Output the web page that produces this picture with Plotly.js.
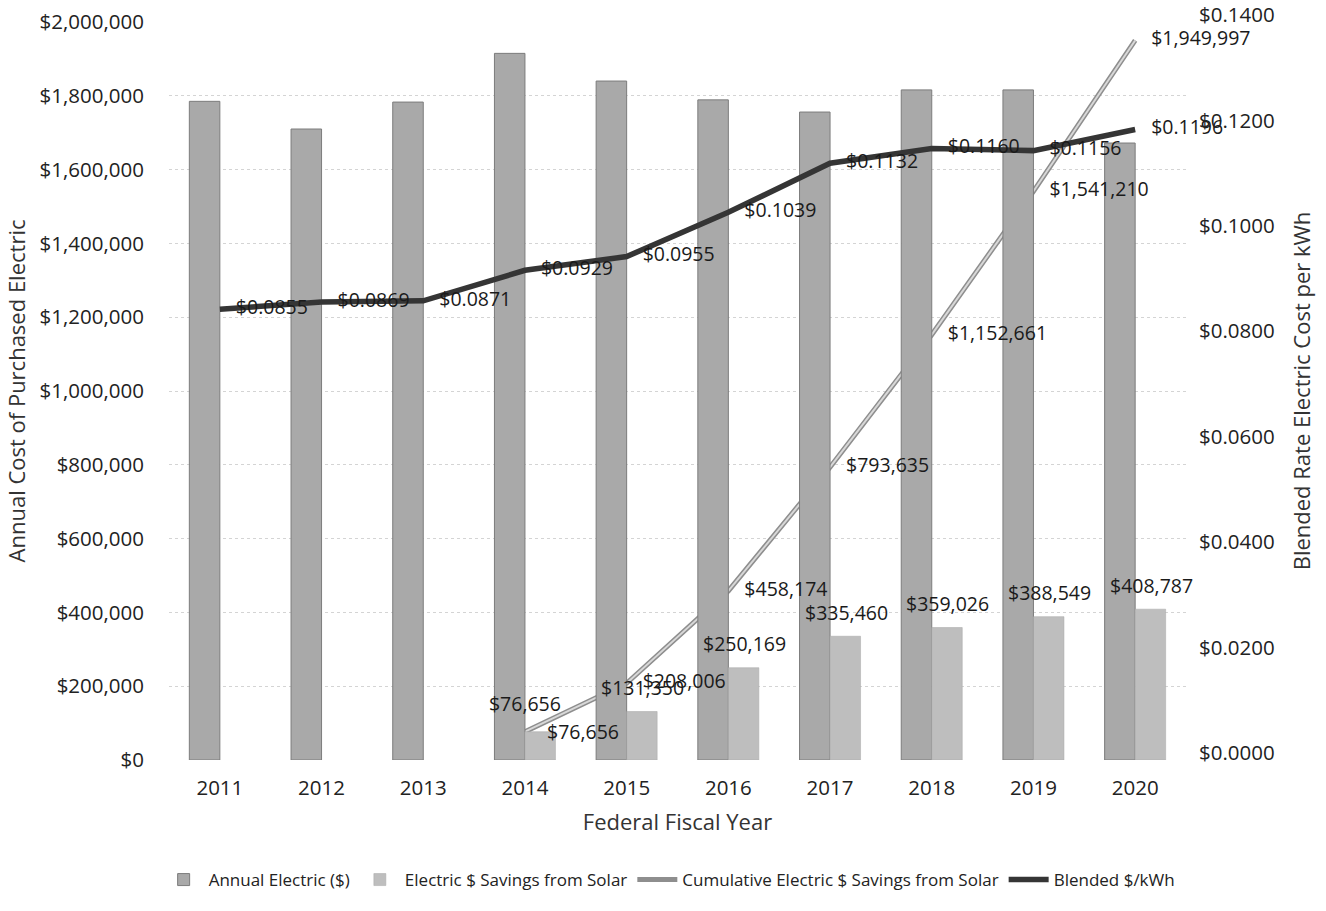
<!DOCTYPE html>
<html>
<head>
<meta charset="utf-8">
<script src="https://cdn.plot.ly/plotly-3.0.1.min.js"></script>
<style>html,body{margin:0;padding:0;background:#fff;}#chart{width:1326px;height:911px;}</style>
</head>
<body>
<div id="chart"></div>
<script>
// ---- data ----
var years = ['2011','2012','2013','2014','2015','2016','2017','2018','2019','2020'];
var annualElectric = [1785000, 1710000, 1783000, 1915000, 1840000, 1789000, 1756000, 1816000, 1816000, 1672000];
var solarSavings = [null, null, null, 76656, 131350, 250169, 335460, 359026, 388549, 408787];
var cumulativeSavings = [null, null, null, 76656, 208006, 458174, 793635, 1152661, 1541210, 1949997];
var blendedRate = [0.0855, 0.0869, 0.0871, 0.0929, 0.0955, 0.1039, 0.1132, 0.1160, 0.1156, 0.1196];

var FONT = 'Open Sans, Noto Sans, sans-serif';
var LABEL = {family: FONT, size: 19.5, color: '#1a1a1a'};
function money(v){ return '$' + Math.round(v).toLocaleString('en-US'); }

var cumText = cumulativeSavings.map(function(v){ return v == null ? '' : money(v); });
var cumPos = cumulativeSavings.map(function(v, i){ return i === 3 ? 'top center' : 'middle right'; });
var rateText = blendedRate.map(function(v){ return '$' + v.toFixed(4); });

var traces = [
  // cumulative line on the base axis (drawn beneath the bars)
  {
    type: 'scatter', name: 'Cumulative Electric $ Savings from Solar', x: years, y: cumulativeSavings,
    mode: 'lines', line: {color: '#8e8e8e', width: 5}, hoverinfo: 'skip', legendrank: 3
  },
  {
    type: 'scatter', name: 'cum-inner', showlegend: false, x: years, y: cumulativeSavings,
    mode: 'lines', line: {color: '#d8d8d8', width: 2}, hoverinfo: 'skip'
  },
  {
    type: 'bar', name: 'Annual Electric ($)', x: years, y: annualElectric, yaxis: 'y2',
    marker: {color: '#a9a9a9', line: {color: '#7c7c7c', width: 1}},
    hoverinfo: 'skip', legendrank: 1
  },
  {
    type: 'bar', name: 'Electric $ Savings from Solar', x: years, y: solarSavings, yaxis: 'y2',
    marker: {color: '#bebebe', line: {color: '#a6a6a6', width: 0.5}},
    hoverinfo: 'skip', legendrank: 2
  },
  {
    type: 'scatter', name: 'Blended $/kWh', x: years, y: blendedRate, yaxis: 'y3',
    mode: 'lines+markers+text', line: {color: '#353535', width: 5.5},
    marker: {size: 24, color: 'rgba(0,0,0,0)'},
    text: rateText, textposition: 'middle right', textfont: LABEL,
    cliponaxis: false, hoverinfo: 'skip', legendrank: 4
  },
  // cumulative data labels, on a top overlay so the bars do not hide them
  {
    type: 'scatter', name: 'cum-labels', showlegend: false, x: years, y: cumulativeSavings, yaxis: 'y4',
    mode: 'markers+text', marker: {size: 24, color: 'rgba(0,0,0,0)'},
    text: cumText, textposition: cumPos, textfont: LABEL,
    cliponaxis: false, hoverinfo: 'skip'
  }
];

// savings bar labels as annotations anchored to the data (category serial number on x)
var annotations = [];
solarSavings.forEach(function(v, i){
  if (v == null) return;
  var first = (i === 3);
  annotations.push({
    x: i, y: v, xref: 'x', yref: 'y',
    text: money(v), showarrow: false,
    xshift: first ? 58 : 16, yshift: first ? 0 : 24,
    yanchor: 'middle', xanchor: 'center', font: LABEL
  });
});

var TICK = {family: FONT, size: 20.5, color: '#222'};
var TITLE = {family: FONT, size: 22, color: '#333'};

var layout = {
  width: 1326, height: 911,
  margin: {l: 169, r: 140, t: 22, b: 151, autoexpand: false},
  paper_bgcolor: '#ffffff', plot_bgcolor: '#ffffff',
  font: {family: FONT, color: '#333333'},
  barmode: 'group', bargap: 0.4, bargroupgap: 0,
  showlegend: true,
  legend: {orientation: 'h', xref: 'container', yref: 'container',
           x: 0.505, xanchor: 'center', y: 0.034, yanchor: 'middle',
           font: {family: FONT, size: 17, color: '#222'}, itemwidth: 40, traceorder: 'normal'},
  xaxis: {
    type: 'category', range: [-0.5, years.length - 0.5], autorange: false,
    showgrid: false, zeroline: false, showline: false, ticks: '',
    tickfont: TICK, ticklabelstandoff: 13,
    title: {text: 'Federal Fiscal Year', font: TITLE, standoff: 15}
  },
  yaxis: {
    range: [0, 2000000], dtick: 200000, tickformat: '$,.0f',
    showgrid: true, gridcolor: '#d4d4d4', griddash: 'dot', gridwidth: 1,
    zeroline: false, showline: false, ticks: '',
    tickfont: TICK, ticklabelstandoff: 24,
    title: {text: 'Annual Cost of Purchased Electric', font: TITLE, standoff: 7}
  },
  yaxis2: {range: [0, 2000000], overlaying: 'y', visible: false, showgrid: false, zeroline: false},
  yaxis3: {
    range: [0, 0.14], dtick: 0.02, tickformat: '$.4f', side: 'right', overlaying: 'y',
    showgrid: false, zeroline: false, showline: false, ticks: '',
    tickfont: TICK, ticklabelstandoff: 12, ticklabelshift: -7,
    title: {text: 'Blended Rate Electric Cost per kWh', font: TITLE, standoff: 20}
  },
  yaxis4: {range: [0, 2000000], overlaying: 'y', visible: false, showgrid: false, zeroline: false},
  annotations: annotations
};

Plotly.newPlot('chart', traces, layout, {staticPlot: true, displayModeBar: false});
</script>
</body>
</html>
